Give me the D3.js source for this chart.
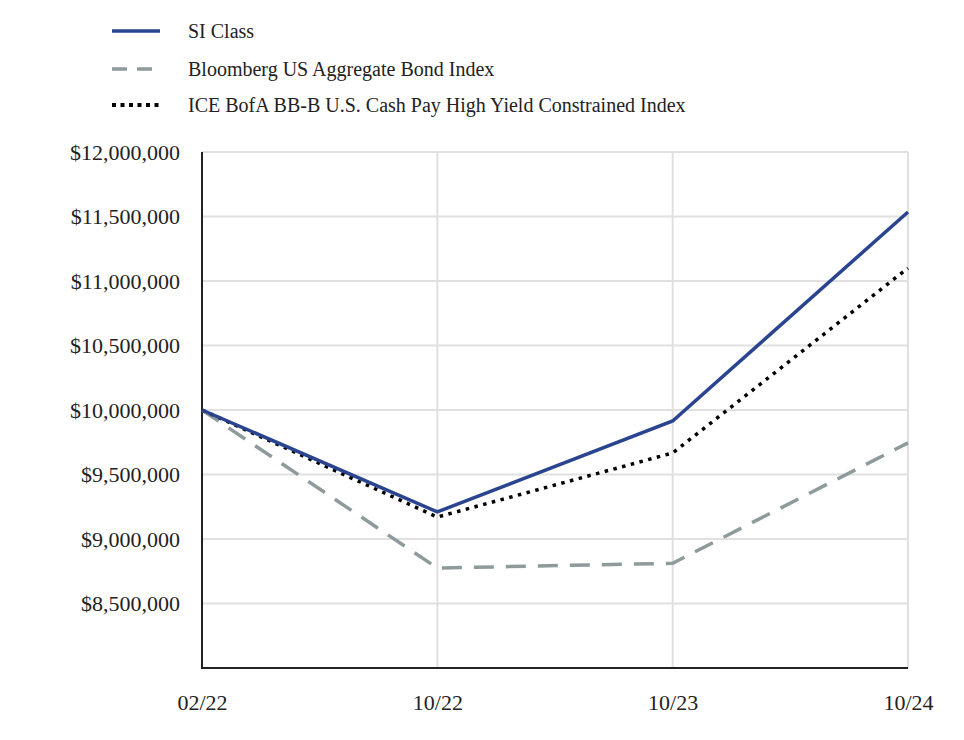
<!DOCTYPE html>
<html><head><meta charset="utf-8">
<script src="https://cdn.jsdelivr.net/npm/d3@7"></script>
<style>body{margin:0;background:#fff}</style>
</head><body>
<svg id="c" width="964" height="740"></svg>
<script>
const categories = ["02/22","10/22","10/23","10/24"];
const siClass = [10000000, 9210000, 9915000, 11535000];
const bloomberg = [10000000, 8775000, 8812000, 9745000];
const iceBofA = [10000000, 9170000, 9667000, 11100000];
const yTicks = [8500000, 9000000, 9500000, 10000000, 10500000, 11000000, 11500000, 12000000];
const seriesNames = ["SI Class","Bloomberg US Aggregate Bond Index","ICE BofA BB-B U.S. Cash Pay High Yield Constrained Index"];

const font = "'Liberation Serif', 'DejaVu Serif', serif";
const svg = d3.select("#c");
const m = {l:202, r:908, t:152, b:668};
const x = d3.scalePoint().domain(categories).range([m.l, m.r]);
const y = d3.scaleLinear().domain([8000000, 12000000]).range([m.b, m.t]);

// grid
const g = svg.append("g");
g.selectAll(".hg").data(yTicks).enter().append("line")
  .attr("x1", m.l).attr("x2", m.r).attr("y1", d=>y(d)).attr("y2", d=>y(d))
  .attr("stroke", "#e0e0e0").attr("stroke-width", 2);
g.selectAll(".vg").data(categories.slice(1)).enter().append("line")
  .attr("x1", d=>x(d)).attr("x2", d=>x(d)).attr("y1", m.t).attr("y2", m.b)
  .attr("stroke", "#e0e0e0").attr("stroke-width", 2);

// y axis
const yAxis = d3.axisLeft(y).tickValues(yTicks).tickSize(0).tickPadding(22)
  .tickFormat(d => "$" + d3.format(",")(d));
const ya = svg.append("g").attr("transform", `translate(${m.l},0)`).call(yAxis);
ya.select(".domain").remove();
ya.selectAll("text").attr("font-family", font).attr("font-size", 22).attr("fill", "#222");
svg.append("line").attr("x1", m.l).attr("x2", m.l).attr("y1", m.t).attr("y2", m.b+1)
  .attr("stroke", "#222").attr("stroke-width", 2);

// x axis
const xAxis = d3.axisBottom(x).tickSize(0).tickPadding(26);
const xa = svg.append("g").attr("transform", `translate(0,${m.b})`).call(xAxis);
xa.select(".domain").remove();
xa.selectAll("text").attr("font-family", font).attr("font-size", 22).attr("fill", "#222");
svg.append("line").attr("x1", m.l-1).attr("x2", m.r).attr("y1", m.b).attr("y2", m.b)
  .attr("stroke", "#222").attr("stroke-width", 2);

const styles = [
  {data: siClass, color: "#2b448f", dash: null, w: 3.5},
  {data: bloomberg, color: "#8e9a9c", dash: "20,12", w: 3.5},
  {data: iceBofA, color: "#000", dash: "3.5,5.5", w: 3.5}
];
const line = d3.line().x((d,i)=>x(categories[i])).y(d=>y(d));
// draw order: bloomberg, ice, si
[1,2,0].forEach(k => {
  const s = styles[k];
  svg.append("path").attr("d", line(s.data)).attr("fill","none")
    .attr("stroke", s.color).attr("stroke-width", s.w)
    .attr("stroke-dasharray", s.dash).attr("stroke-linejoin","miter");
});

// legend
const ly = [31, 69, 105];
seriesNames.forEach((n,i) => {
  const s = styles[i];
  svg.append("line").attr("x1", 112).attr("x2", 160).attr("y1", ly[i]).attr("y2", ly[i])
    .attr("stroke", s.color).attr("stroke-width", i===2 ? 4 : 3.5)
    .attr("stroke-dasharray", i===1 ? "15,10" : (i===2 ? "4,4.5" : null));
  svg.append("text").attr("x", 188).attr("y", ly[i]+7).text(n)
    .attr("font-family", font).attr("font-size", 20).attr("fill", "#222");
});
</script>
</body></html>
